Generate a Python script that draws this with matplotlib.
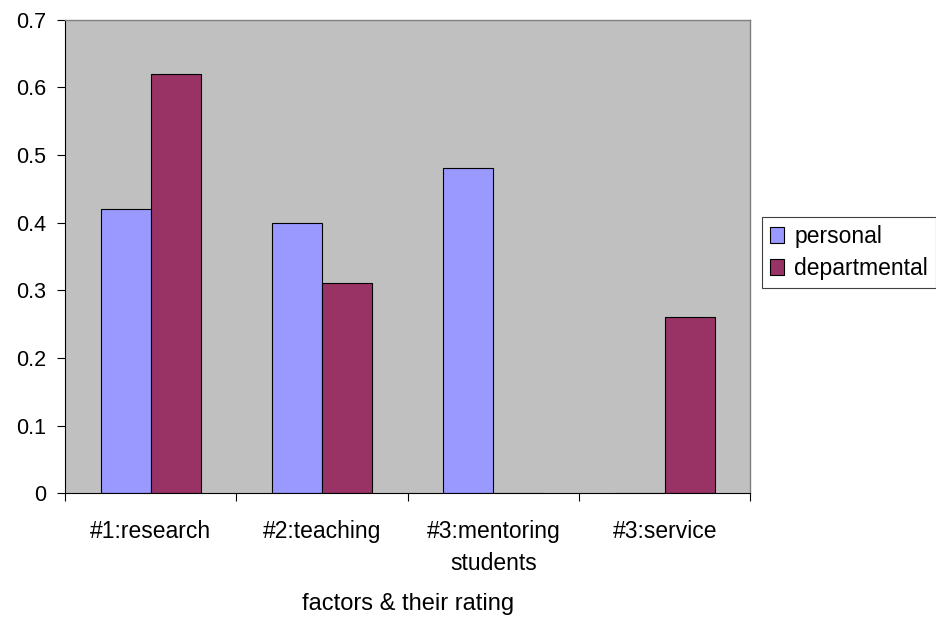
import matplotlib.pyplot as plt
import numpy as np

categories = ["#1:research", "#2:teaching", "#3:mentoring\nstudents", "#3:service"]
personal = [0.42, 0.40, 0.48, 0.0]
departmental = [0.62, 0.31, 0.0, 0.26]
yticks = [0, 0.1, 0.2, 0.3, 0.4, 0.5, 0.6, 0.7]
ytick_labels = ["0", "0.1", "0.2", "0.3", "0.4", "0.5", "0.6", "0.7"]

plt.rcParams["font.family"] = ["Liberation Sans", "DejaVu Sans"]

W, H = 937, 620
fig = plt.figure(figsize=(W / 100, H / 100), dpi=100)
left, right, top, bottom = 65, 750.5, 19.5, 493.3
ax = fig.add_axes([left / W, 1 - bottom / H, (right - left) / W, (bottom - top) / H])
ax.set_facecolor("#C0C0C0")

x = np.arange(len(categories))
w = 0.292
ax.bar(x - w / 2, personal, w, color="#9999FF", edgecolor="black", linewidth=0.8,
       label="personal")
ax.bar(x + w / 2, departmental, w, color="#993366", edgecolor="black", linewidth=0.8,
       label="departmental")

ax.set_xlim(-0.5, len(categories) - 0.5)
ax.set_ylim(0, 0.7)
ax.set_yticks(yticks)
ax.set_yticklabels(ytick_labels)
ax.set_xticks(x)
ax.set_xticklabels(categories, linespacing=1.5)
ax.set_xticks(np.arange(-0.5, len(categories), 1), minor=True)
ax.tick_params(axis="x", which="major", length=0, pad=19, labelsize=16.5)
ax.tick_params(axis="x", which="minor", length=5.5, width=0.8, direction="out")
ax.tick_params(axis="y", length=5.8, width=0.8, direction="out", labelsize=15.5, pad=8)

for side in ["top", "right"]:
    ax.spines[side].set_color("#808080")
    ax.spines[side].set_linewidth(1)
ax.spines["left"].set_linewidth(0.8)
ax.spines["bottom"].set_linewidth(0.8)
ax.spines["bottom"].set_zorder(3)

# axis title, placed below the two-line tick labels
ax.set_xlabel("factors & their rating", fontsize=17)
ax.xaxis.set_label_coords(0.5, -(593 - bottom) / (bottom - top))

leg = ax.legend(loc="upper left", bbox_to_anchor=(761.7 / W, 1 - 216.7 / H),
                bbox_transform=fig.transFigure, fontsize=16.5, frameon=True,
                fancybox=False, framealpha=1, edgecolor="#404040",
                handlelength=0.62, handleheight=0.7, handletextpad=0.45,
                borderpad=0.35, labelspacing=0.4, borderaxespad=0)
leg.get_frame().set_linewidth(0.8)

fig.savefig("out.png", dpi=100)
